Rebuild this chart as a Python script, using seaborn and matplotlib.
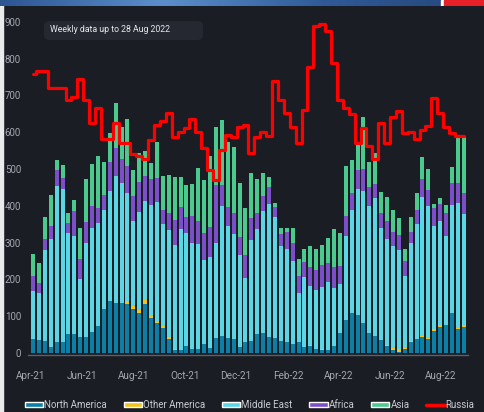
import numpy as np
import pandas as pd
import matplotlib
matplotlib.use('Agg')
import matplotlib.pyplot as plt
import matplotlib.dates as mdates
from matplotlib.patches import Patch, FancyBboxPatch, Rectangle
from matplotlib.lines import Line2D
import seaborn as sns

# weekly data, 4 Apr 2021 .. 28 Aug 2022 (thousand barrels / day)
weeks = pd.date_range('2021-04-04', '2022-08-28', freq='7D')

north_america = [37, 35, 34, 17, 31, 31, 51, 51, 44, 44, 58, 73, 119, 142, 135, 135, 133, 121, 110, 133,
                 94, 82, 67, 37, 8, 7, 19, 10, 10, 24, 13, 40, 46, 40, 37, 17, 31, 34, 52, 54,
                 43, 40, 34, 29, 24, 29, 17, 19, 10, 7, 7, 19, 54, 90, 108, 103, 82, 55, 46, 36,
                 18, 9, 4, 10, 30, 38, 43, 37, 61, 70, 76, 110, 64, 70]
other_america = [0, 0, 0, 0, 0, 0, 0, 0, 0, 0, 0, 0, 0, 0, 0, 0, 8, 8, 8, 10,
                 6, 5, 6, 6, 3, 0, 0, 0, 0, 0, 0, 0, 0, 0, 0, 0, 0, 0, 0, 0,
                 0, 0, 0, 0, 0, 0, 0, 2, 0, 3, 0, 0, 0, 0, 0, 0, 0, 0, 0, 0,
                 5, 6, 6, 5, 3, 0, 4, 3, 5, 5, 0, 0, 5, 6]
middle_east = [131, 127, 246, 293, 423, 415, 276, 267, 157, 254, 283, 281, 271, 298, 346, 328, 293, 231, 266, 271,
               302, 324, 279, 291, 282, 329, 306, 290, 286, 229, 249, 258, 354, 305, 286, 249, 172, 273, 284, 333,
               363, 329, 257, 255, 227, 135, 189, 161, 161, 170, 187, 157, 134, 228, 281, 342, 358, 345, 374, 304,
               287, 275, 270, 195, 267, 312, 376, 360, 279, 285, 242, 292, 338, 302]
africa = [41, 27, 30, 35, 43, 31, 27, 68, 54, 59, 59, 39, 39, 80, 75, 63, 74, 67, 82, 67,
          70, 66, 38, 46, 68, 60, 45, 72, 64, 72, 81, 159, 57, 53, 57, 50, 63, 59, 44, 40,
          44, 27, 32, 46, 49, 45, 41, 53, 55, 59, 51, 57, 48, 54, 47, 52, 60, 50, 40, 40,
          50, 40, 40, 40, 30, 40, 49, 43, 48, 45, 63, 59, 56, 58]
asia = [60, 56, 60, 84, 28, 33, 26, 30, 86, 115, 114, 143, 89, 77, 124, 87, 127, 70, 77, 69,
        45, 97, 91, 104, 118, 83, 87, 87, 142, 145, 192, 158, 176, 176, 181, 145, 127, 124, 92, 61,
        28, 11, 18, 11, 41, 46, 37, 56, 56, 54, 67, 103, 91, 136, 88, 71, 141, 69, 83, 57,
        63, 60, 48, 32, 40, 46, 62, 56, 12, 17, 21, 45, 123, 150]
russia = [758, 767, 767, 720, 720, 720, 688, 695, 746, 688, 626, 665, 583, 583, 624, 570, 570, 541, 535, 526,
          579, 620, 631, 653, 586, 601, 611, 635, 601, 556, 497, 470, 553, 592, 586, 615, 620, 543, 586, 601,
          590, 740, 688, 651, 615, 570, 660, 778, 889, 893, 876, 789, 688, 665, 649, 570, 611, 562, 526, 624,
          570, 642, 658, 597, 601, 583, 606, 617, 692, 651, 615, 597, 590, 590]

regions = ['North America', 'Other America', 'Middle East', 'Africa', 'Asia']
colors = {'North America': '#0b7fa5', 'Other America': '#f3c418', 'Middle East': '#5ad6e4',
          'Africa': '#7a4fc8', 'Asia': '#4cc98c', 'Russia': '#ff0000'}
bg = '#1b1d24'
txt = '#a3a7b0'

df = pd.DataFrame({'week': mdates.date2num(weeks), 'North America': north_america,
                   'Other America': other_america, 'Middle East': middle_east,
                   'Africa': africa, 'Asia': asia, 'Russia': russia})
cum = df[regions].cumsum(axis=1)

sns.set_style('dark', rc={'axes.facecolor': bg, 'figure.facecolor': bg})
plt.rcParams['font.family'] = ['Roboto', 'DejaVu Sans']

fig = plt.figure(figsize=(4.85, 4.12), dpi=100)
ax = fig.add_axes([28 / 485, 57.5 / 412, 440 / 485, 340 / 412])
ax.set_facecolor(bg)

# stacked bars: draw the running totals from the top layer down
for reg in regions[::-1]:
    sns.barplot(x=df['week'], y=cum[reg], native_scale=True, color=colors[reg],
                width=0.68, errorbar=None, linewidth=0, saturation=1, ax=ax)

sns.lineplot(x=df['week'], y=df['Russia'], color=colors['Russia'], lw=2.3,
             drawstyle='steps-mid', ax=ax)

ax.set_xlim(mdates.date2num(pd.Timestamp('2021-03-29')), mdates.date2num(pd.Timestamp('2022-09-02')))
ax.set_ylim(-4, 920)
ax.set_yticks(range(0, 901, 100))
ax.xaxis.set_major_locator(mdates.MonthLocator(bymonth=[2, 4, 6, 8, 10, 12]))
ax.xaxis.set_major_formatter(mdates.DateFormatter('%b-%y'))
ax.set_xlabel('')
ax.set_ylabel('')
ax.grid(False)
for s in ['top', 'right', 'left']:
    ax.spines[s].set_visible(False)
ax.spines['bottom'].set_color('#5a5e68')
ax.spines['bottom'].set_linewidth(1)
ax.tick_params(axis='x', colors=txt, labelsize=7.2, length=3, width=0.8, pad=9, color='#5a5e68')
ax.tick_params(axis='y', colors=txt, labelsize=7, length=0, pad=5)

# note box
fig.patches.append(FancyBboxPatch((44 / 485, 1 - 40 / 412), 159 / 485, 19 / 412,
                                  boxstyle='round,pad=0,rounding_size=0.012',
                                  transform=fig.transFigure, facecolor='#252830', edgecolor='none'))
fig.text(50 / 485, 1 - 30 / 412, 'Weekly data up to 28 Aug 2022', color='#e6e8ec',
         fontsize=6.3, va='center', ha='left')

# header strip and left border
hdr = fig.add_axes([0, 1 - 6 / 412, 1, 6 / 412])
grad = np.linspace(0, 1, 256)
hdr.imshow(np.vstack([grad, grad]), aspect='auto', cmap=matplotlib.colors.LinearSegmentedColormap.from_list(
    'h', ['#2c5592', '#5b8fcc', '#2f5a96', '#24457a']), extent=[0, 1, 0, 1])
hdr.add_patch(Rectangle((441 / 485, 0), 3 / 485, 1, color='white'))
hdr.add_patch(Rectangle((444 / 485, 0), 1, 1, color='#e8202a'))
hdr.set_xlim(0, 1)
hdr.axis('off')
fig.patches.append(Rectangle((0, 0), 3 / 485, 1, transform=fig.transFigure, color='#e9eaec', zorder=-1))

handles = [Patch(facecolor=colors[r], label=r) for r in regions]
handles.append(Line2D([0], [0], color=colors['Russia'], lw=2.5, label='Russia'))
fig.legend(handles=handles, loc='center', bbox_to_anchor=(0.515, 7 / 412), ncol=6, frameon=False,
           fontsize=7, labelcolor='#c9ccd3', handlelength=1.9, handleheight=0.55,
           handletextpad=0.1, columnspacing=1.7)

fig.savefig('out.png', dpi=100, facecolor=bg)
